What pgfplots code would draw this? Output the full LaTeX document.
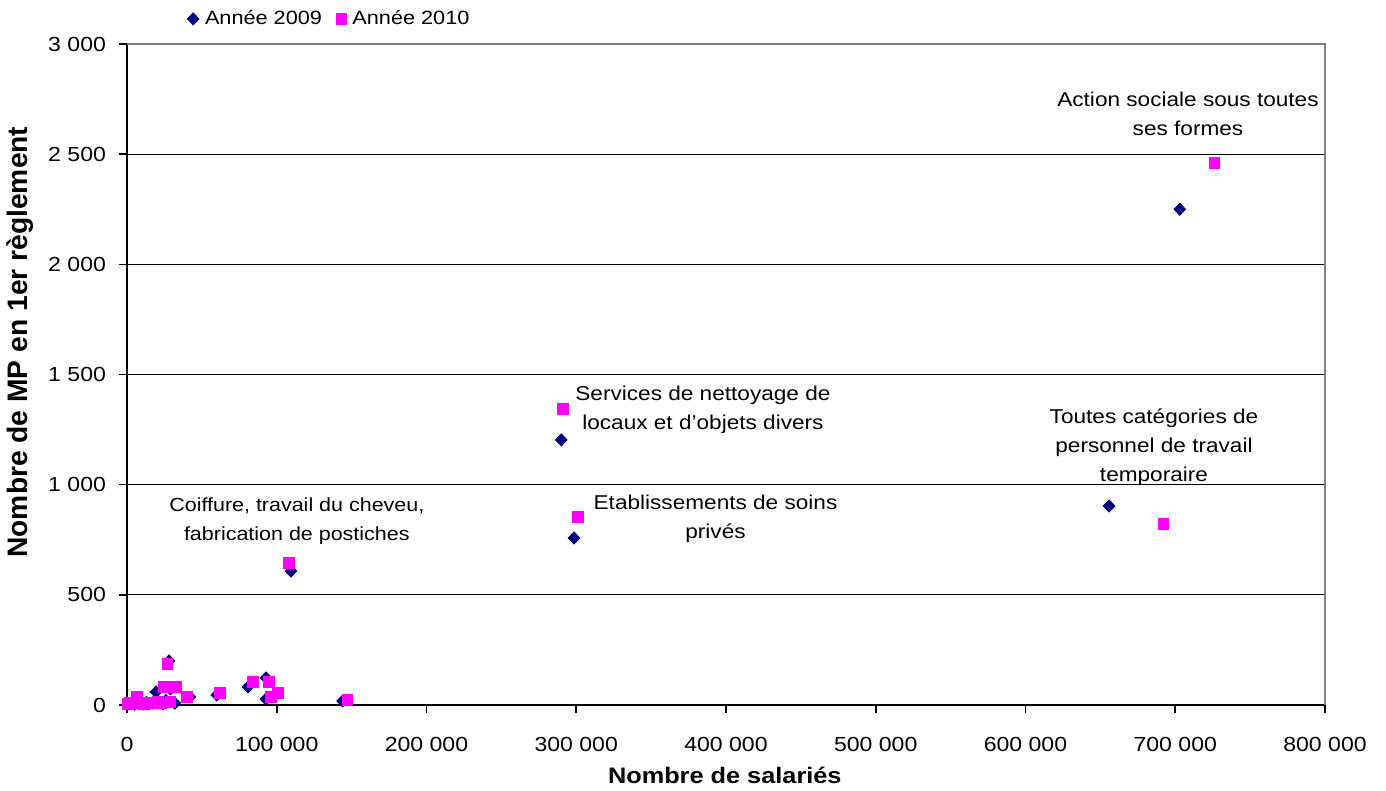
\documentclass[border=0pt]{standalone}
\usepackage{pgfplots}
\pgfplotsset{compat=1.18}
\usepackage{fontspec}
\setmainfont{Liberation Sans}[FakeStretch=1.13]
\newfontfamily\yfont{Liberation Sans}
\usetikzlibrary{calc}
\definecolor{navy09}{RGB}{0,0,128}
\definecolor{mag10}{RGB}{255,0,255}
\begin{document}
\begin{tikzpicture}
\begin{axis}[
  name=ax,
  scale only axis,
  width=599pt, height=330.5pt,
  xmin=0, xmax=800000, ymin=0, ymax=3000,
  axis lines*=left,
  axis line style={line width=0.8pt},
  xtick={0,100000,200000,300000,400000,500000,600000,700000,800000},
  xticklabels={0,100 000,200 000,300 000,400 000,500 000,600 000,700 000,800 000},
  ytick={0,500,1000,1500,2000,2500,3000},
  yticklabels={0,500,1 000,1 500,2 000,2 500,3 000},
  ymajorgrids, grid style={black, line width=0.5pt},
  tick style={black, line width=0.8pt},
  tick align=outside, major tick length=4pt,
  scaled ticks=false,
  tick label style={font=\fontsize{10.2}{12}\selectfont},
  xticklabel style={yshift=-8.5pt},
  yticklabel style={xshift=-3pt},
  xlabel={\textbf{Nombre de salariés}},
  ylabel={\yfont\bfseries Nombre de MP en 1er règlement},
  x label style={font=\fontsize{11.2}{13}\selectfont, at={(axis description cs:0.499,-0.1059)}, anchor=center},
  y label style={font=\fontsize{14.1}{16}\selectfont, at={(axis description cs:-0.0893,0.549)}, anchor=center},
  legend columns=-1,
  legend style={draw=none, at={(0.045,1.038)}, anchor=west, font=\fontsize{9.6}{12}\selectfont,
    /tikz/every even column/.append style={column sep=5pt},
    /tikz/every odd column/.append style={column sep=1pt}},
  legend image code/.code={\draw[mark repeat=2,mark phase=2,#1] plot coordinates {(0pt,0pt)(4pt,0pt)(8pt,0pt)};},
  clip=false,
]
\addplot[only marks, mark=diamond*, mark size=3pt, color=navy09, mark options={draw=navy09, fill=navy09, xscale=1.3}] coordinates {
(1500,5)(3000,8)(5000,3)(7000,10)(9000,6)(11000,4)(13000,12)(15000,7)(17000,9)(19400,59)
(20000,15)(22000,10)(24000,5)(26000,20)(28000,200)(29000,73)(32000,8)(42000,36)(60000,45)
(80800,82)(92800,123)(92800,27)(109500,608)(144000,18)(290000,1203)(298500,758)(655800,903)(703000,2250)
};
\addlegendentry{Année 2009}
\addplot[only marks, mark=square*, mark size=2.6pt, color=mag10, mark options={draw=mag10, fill=mag10}] coordinates {
(500,5)(2000,10)(4000,6)(6700,36)(9000,8)(11000,5)(13000,10)(15000,6)(17000,12)(19000,8)
(21000,15)(23000,7)(24700,82)(27000,186)(29000,14)(32700,82)(40000,36)(62000,54)
(84100,104)(94800,104)(96200,36)(100800,54)(108000,645)(147000,23)(291000,1344)(301000,853)(692000,822)(726000,2460)
};
\addlegendentry{Année 2010}
\draw[gray, line width=0.8pt] (rel axis cs:0,1) -- (rel axis cs:1,1) -- (rel axis cs:1,0);
\begin{scope}[every node/.style={align=center, font=\fontsize{10}{14.5}\selectfont}]
\node at (axis cs:708500,2683) {Action sociale sous toutes\\ses formes};
\node at (axis cs:384600,1339) {Services de nettoyage de\\locaux et d'objets divers};
\node at (axis cs:393000,844) {Etablissements de soins\\privés};
\node at (axis cs:685800,1171) {Toutes catégories de\\personnel de travail\\temporaire};
\node[font=\fontsize{9.5}{14.5}\selectfont] at (axis cs:113400,835) {Coiffure, travail du cheveu,\\fabrication de postiches};
\end{scope}
\end{axis}
\pgfresetboundingbox
\path[use as bounding box] ($(ax.south west)+(-63.5pt,-43pt)$) rectangle ($(ax.north east)+(30.5pt,22pt)$);
\end{tikzpicture}
\end{document}
